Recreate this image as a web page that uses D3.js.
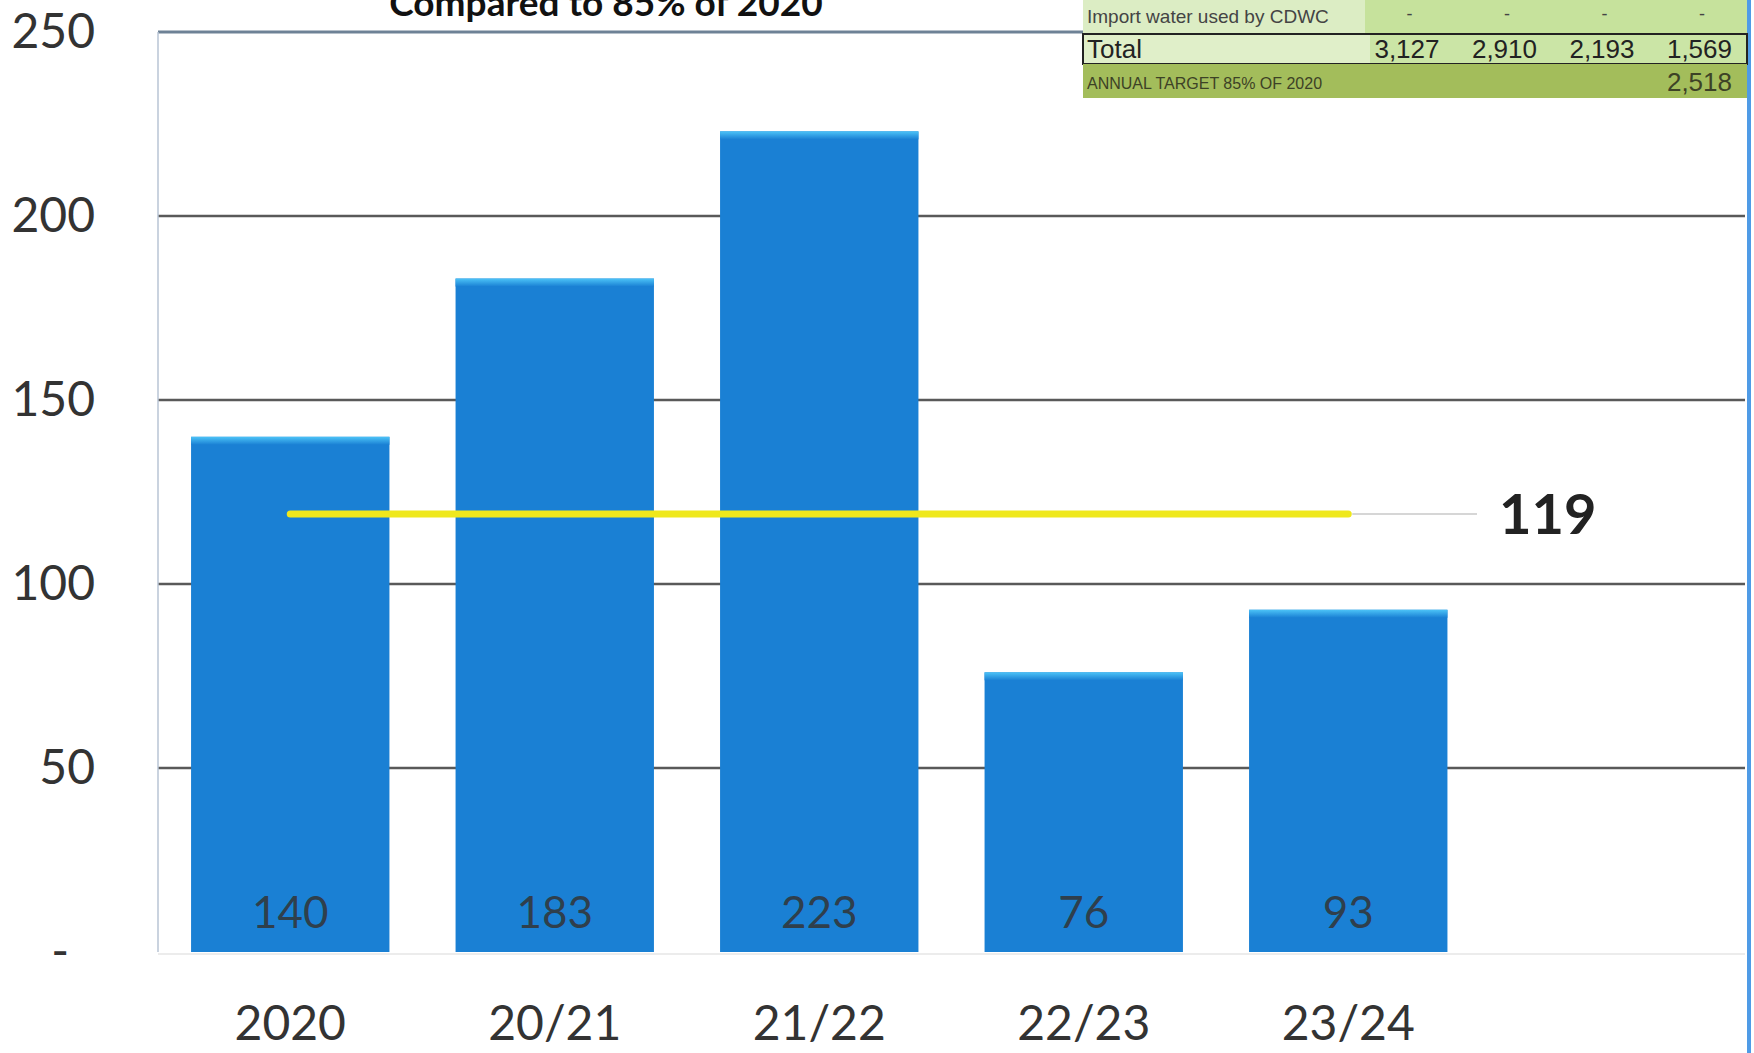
<!DOCTYPE html>
<html>
<head>
<meta charset="utf-8">
<script src="https://cdn.jsdelivr.net/npm/d3@7"></script>
<style>
  body { margin: 0; background: #fff; }
  svg { display: block; }
</style>
</head>
<body>
<div id="chart"></div>
<script>
// chart data
var categories = ["2020", "20/21", "21/22", "22/23", "23/24"];
var values = [140, 183, 223, 76, 93];
var target = [119, 119, 119, 119, 119];
var yTicks = [0, 50, 100, 150, 200, 250];

// little table in the corner
var tableImport = ["-", "-", "-", "-"];
var tableTotals = ["3,127", "2,910", "2,193", "1,569"];
var tableTarget = ["", "", "", "2,518"];

var W = 1754, H = 1053;
// (don't call it "top", window.top is read only)
var plotL = 158, plotR = 1745, plotT = 32, plotB = 952;

var svg = d3.select('#chart').append('svg').attr('width', W).attr('height', H);

// extra empty slot on the right, like the sheet has
var x = d3.scaleBand().domain(categories.concat([" "])).range([plotL, plotR])
  .paddingInner(0.25).paddingOuter(0.125);
var y = d3.scaleLinear().domain([0, 250]).range([plotB, plotT]);

var defs = svg.append('defs');
var grad = defs.append('linearGradient').attr('id', 'bevel').attr('x1', 0).attr('x2', 0).attr('y1', 0).attr('y2', 1);
grad.append('stop').attr('offset', '0%').attr('stop-color', '#4cc3f7');
grad.append('stop').attr('offset', '100%').attr('stop-color', '#1a80d4');

// gridlines
svg.append('g').selectAll('line').data(yTicks.filter(function(d) { return d > 0 && d < 250; }))
  .enter().append('line')
  .attr('x1', plotL).attr('x2', plotR)
  .attr('y1', function(d) { return y(d); }).attr('y2', function(d) { return y(d); })
  .attr('stroke', '#595959').attr('stroke-width', 2.5);

// frame
svg.append('line').attr('x1', plotL).attr('x2', 1748).attr('y1', y(250)).attr('y2', y(250))
  .attr('stroke', '#6e8296').attr('stroke-width', 3);
svg.append('line').attr('x1', plotL).attr('x2', plotL).attr('y1', y(250)).attr('y2', y(0))
  .attr('stroke', '#b8c4d4').attr('stroke-width', 1.5);
svg.append('line').attr('x1', plotL).attr('x2', plotR).attr('y1', y(0) + 2).attr('y2', y(0) + 2)
  .attr('stroke', '#ececec').attr('stroke-width', 2);
svg.append('line').attr('x1', 1749).attr('x2', 1749).attr('y1', 0).attr('y2', H)
  .attr('stroke', '#4f9be6').attr('stroke-width', 4);

// bars
var bars = svg.append('g').selectAll('g').data(values).enter().append('g');
bars.append('rect')
  .attr('x', function(d, i) { return x(categories[i]); })
  .attr('y', function(d) { return y(d); })
  .attr('width', x.bandwidth())
  .attr('height', function(d) { return y(0) - y(d); })
  .attr('fill', '#1a80d4');
bars.append('rect')
  .attr('x', function(d, i) { return x(categories[i]); })
  .attr('y', function(d) { return y(d); })
  .attr('width', x.bandwidth())
  .attr('height', 8)
  .attr('fill', 'url(#bevel)');
bars.append('text')
  .attr('x', function(d, i) { return x(categories[i]) + x.bandwidth() / 2; })
  .attr('y', 928)
  .attr('text-anchor', 'middle')
  .attr('font-family', 'Lato, sans-serif')
  .attr('font-size', 44)
  .attr('fill', '#333')
  .attr('fill-opacity', 0.85)
  .text(function(d) { return d; });

// target line
var line = d3.line()
  .x(function(d, i) { return x(categories[i]) + x.bandwidth() / 2; })
  .y(function(d) { return y(d); });
svg.append('path').datum(target).attr('d', line)
  .attr('fill', 'none').attr('stroke', '#efe81c').attr('stroke-width', 7).attr('stroke-linecap', 'round');

var lastX = x(categories[categories.length - 1]) + x.bandwidth() / 2;
svg.append('line').attr('x1', lastX + 4).attr('x2', 1477)
  .attr('y1', y(target[target.length - 1])).attr('y2', y(target[target.length - 1]))
  .attr('stroke', '#c8c8c8').attr('stroke-width', 1.5);
svg.append('text').attr('x', 1499).attr('y', y(target[target.length - 1])).attr('dy', '0.36em')
  .attr('font-family', 'Lato, sans-serif').attr('font-weight', 'bold').attr('font-size', 56)
  .attr('fill', '#222').text(target[target.length - 1]);

// axes
var yAxis = svg.append('g').attr('transform', 'translate(95,0)')
  .call(d3.axisLeft(y).tickValues(yTicks).tickSize(0).tickPadding(0)
    .tickFormat(function(d) { return d === 0 ? '-' : d; }));
yAxis.select('.domain').remove();
yAxis.selectAll('text').attr('font-family', 'Lato, sans-serif').attr('font-size', 48).attr('fill', '#333')
  .attr('dx', function(d) { return d === 0 ? -26 : 0; });

var xAxis = svg.append('g').attr('transform', 'translate(0,' + 1040 + ')')
  .call(d3.axisBottom(x).tickValues(categories).tickSize(0).tickPadding(0));
xAxis.select('.domain').remove();
xAxis.selectAll('text').attr('font-family', 'Lato, sans-serif').attr('font-size', 48).attr('fill', '#333')
  .attr('dy', 0).attr('y', 0);

// title (cut off at the top, same as the source image)
svg.append('text').attr('x', 606).attr('y', 16).attr('text-anchor', 'middle')
  .attr('font-family', 'Lato, sans-serif').attr('font-weight', 'bold').attr('font-size', 37)
  .attr('fill', '#111').text('Compared to 85% of 2020');

// table
var tx = 1083, tw = 1747 - 1083;
var col = d3.scaleBand().domain([0, 1, 2, 3]).range([1350, 1740]);
var narrow = '"Liberation Sans Narrow", "Arial Narrow", "Liberation Sans", sans-serif';
var tbl = svg.append('g');

tbl.append('rect').attr('x', tx).attr('y', 0).attr('width', 1365 - tx).attr('height', 34).attr('fill', '#dcedc4');
tbl.append('rect').attr('x', 1365).attr('y', 0).attr('width', 1747 - 1365).attr('height', 34).attr('fill', '#c6e29c');
tbl.append('rect').attr('x', tx).attr('y', 34).attr('width', 1370 - tx).attr('height', 30).attr('fill', '#e0efc9');
tbl.append('rect').attr('x', 1370).attr('y', 34).attr('width', 1747 - 1370).attr('height', 30).attr('fill', '#cbe5a6');
tbl.append('rect').attr('x', tx).attr('y', 34).attr('width', tw).attr('height', 30)
  .attr('fill', 'none').attr('stroke', '#222').attr('stroke-width', 2);
tbl.append('rect').attr('x', tx).attr('y', 64).attr('width', tw).attr('height', 34).attr('fill', '#a3bd5b');

tbl.append('text').attr('x', 1087).attr('y', 23).attr('font-family', narrow).attr('font-size', 19)
  .attr('fill', '#444').text('Import water used by CDWC');
tbl.selectAll('.imp').data(tableImport).enter().append('text').attr('class', 'imp')
  .attr('x', function(d, i) { return col(i) + col.bandwidth() - 38; }).attr('y', 20)
  .attr('text-anchor', 'middle').attr('font-family', narrow).attr('font-size', 18).attr('fill', '#444')
  .text(function(d) { return d; });

tbl.append('text').attr('x', 1087).attr('y', 58).attr('font-family', narrow).attr('font-size', 26)
  .attr('fill', '#222').text('Total');
tbl.selectAll('.tot').data(tableTotals).enter().append('text').attr('class', 'tot')
  .attr('x', function(d, i) { return col(i) + col.bandwidth() - 8; }).attr('y', 58)
  .attr('text-anchor', 'end').attr('font-family', narrow).attr('font-size', 26).attr('fill', '#222')
  .text(function(d) { return d; });

tbl.append('text').attr('x', 1087).attr('y', 89).attr('font-family', narrow).attr('font-size', 16)
  .attr('fill', '#3d4226').text('ANNUAL TARGET 85% OF 2020');
tbl.selectAll('.tgt').data(tableTarget).enter().append('text').attr('class', 'tgt')
  .attr('x', function(d, i) { return col(i) + col.bandwidth() - 8; }).attr('y', 91)
  .attr('text-anchor', 'end').attr('font-family', narrow).attr('font-size', 26).attr('fill', '#3d4226')
  .text(function(d) { return d; });
</script>
</body>
</html>
